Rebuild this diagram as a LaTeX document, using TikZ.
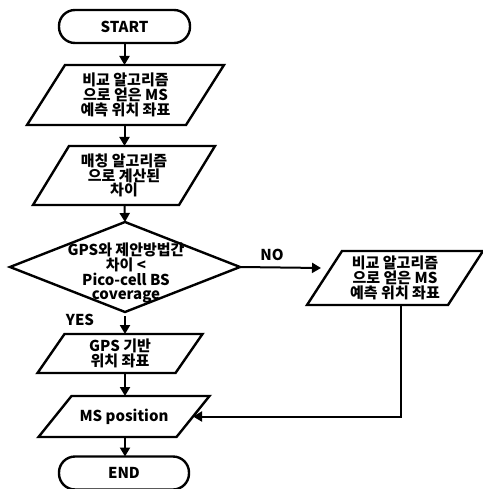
\documentclass[tikz,border=0pt]{standalone}
\usepackage{fontspec}
\setmainfont{Noto Sans CJK KR}
\usetikzlibrary{arrows.meta}
\tikzset{
  outline/.style={draw, line width=2.4pt, line join=miter},
  frame/.style={inner sep=0pt, outer sep=0pt, align=center,
    font=\bfseries\fontsize{15}{14.8}\selectfont},
  conn/.style={line width=2pt, -{Triangle[length=9pt,width=10pt]}},
  lbl/.style={inner sep=0pt, font=\bfseries\fontsize{15}{14.8}\selectfont},
}
\begin{document}
\begin{tikzpicture}[x=1pt,y=-1pt]
\useasboundingbox (0,0) rectangle (482,489);
% START
\node[frame, minimum width=131pt, minimum height=33pt] (start) at (124.5,26.5) {START};
\draw[outline, rounded corners=16pt] (start.south west) rectangle (start.north east);
% P1
\node[frame, minimum width=159pt, minimum height=60pt] (p1) at (125.5,95) {비교 알고리즘\\으로 얻은 MS\\예측 위치 좌표};
\draw[outline] ([xshift=19pt]p1.north west) -- ([xshift=19pt]p1.north east) -- ([xshift=-19pt]p1.south east) -- ([xshift=-19pt]p1.south west) -- cycle;
% P2
\node[frame, minimum width=146pt, minimum height=59pt] (p2) at (124,175.5) {매칭 알고리즘\\으로 계산된\\차이};
\draw[outline] ([xshift=18pt]p2.north west) -- ([xshift=18pt]p2.north east) -- ([xshift=-18pt]p2.south east) -- ([xshift=-18pt]p2.south west) -- cycle;
% decision
\node[frame, minimum width=230pt, minimum height=90pt] (dec) at (125,267) {};
\draw[outline] (dec.north) -- (dec.east) -- (dec.south) -- (dec.west) -- cycle;
\node[frame, font=\bfseries\fontsize{15}{13.5}\selectfont] (dectxt) at (126,273) {GPS와 제안방법간\\차이 <\\Pico-cell BS\\coverage};
% GPS
\node[frame, minimum width=138pt, minimum height=39pt] (gps) at (120,353.5) {GPS 기반\\위치 좌표};
\draw[outline] ([xshift=13.5pt]gps.north west) -- ([xshift=13.5pt]gps.north east) -- ([xshift=-13.5pt]gps.south east) -- ([xshift=-13.5pt]gps.south west) -- cycle;
% MS position
\node[frame, minimum width=138pt, minimum height=41pt] (ms) at (124,416.5) {MS position};
\draw[outline] ([xshift=16.5pt]ms.north west) -- ([xshift=16.5pt]ms.north east) -- ([xshift=-16.5pt]ms.south east) -- ([xshift=-16.5pt]ms.south west) -- cycle;
% END
\node[frame, minimum width=130pt, minimum height=33pt] (end) at (124,473) {END};
\draw[outline, rounded corners=16pt] (end.south west) rectangle (end.north east);
% right parallelogram
\node[frame, minimum width=141pt, minimum height=54pt] (rp) at (395,278) {비교 알고리즘\\으로 얻은 MS\\예측 위치 좌표};
\draw[outline] ([xshift=17.5pt]rp.north west) -- ([xshift=17.5pt]rp.north east) -- ([xshift=-17.5pt]rp.south east) -- ([xshift=-17.5pt]rp.south west) -- cycle;
% connectors
\coordinate (noend) at (321,268);
\draw[conn] (start.south) -- (start.south |- p1.north);
\draw[conn] (start.south |- p1.south) -- (start.south |- p2.north);
\draw[conn] (start.south |- p2.south) -- (dec.north);
\draw[conn] ([yshift=-4pt]dec.south) -- (dec.south |- gps.north);
\draw[conn] (dec.south |- gps.south) -- (dec.south |- ms.north);
\draw[conn] (dec.south |- ms.south) -- (dec.south |- end.north);
\draw[conn] (dec.east) -- (noend);
\draw[conn] ([xshift=6pt]rp.south) |- (ms.east);
% labels
\node[lbl] (yes) at (80,320) {YES};
\node[lbl] (no) at (272,255) {NO};
\end{tikzpicture}
\end{document}
